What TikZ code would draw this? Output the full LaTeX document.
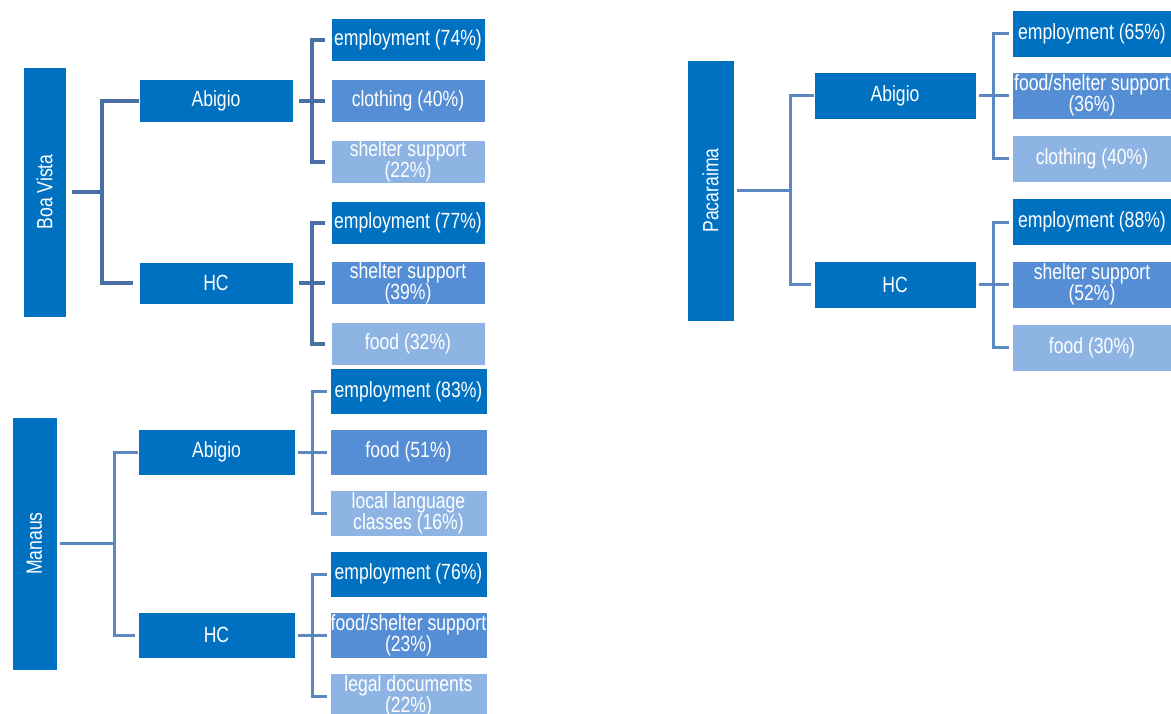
\documentclass[tikz,border=0pt]{standalone}
\usepackage{fontspec}
\setmainfont[FakeStretch=0.8]{Liberation Sans}
\usetikzlibrary{calc,positioning}
\definecolor{color_box_dark}{HTML}{0070C0}
\definecolor{color_box_medium}{HTML}{558ED5}
\definecolor{color_box_light}{HTML}{8EB4E3}
\definecolor{color_link_dark}{HTML}{4A6EA6}
\definecolor{color_link}{HTML}{5B88C0}

\tikzset{
	box/.style={draw=white, line width=0.8pt, text=white, align=center, inner sep=0pt,
		font=\fontsize{22}{21}\selectfont},
	box_dark/.style={box, fill=color_box_dark},
	box_medium/.style={box, fill=color_box_medium},
	box_light/.style={box, fill=color_box_light},
	link/.style={line width=3pt, color_link},
	link_thick/.style={line width=4pt, color_link_dark},
}

\begin{document}
\begin{tikzpicture}[x=1pt,y=-1pt]
				\useasboundingbox (0, 0) rectangle (1171, 713);

				% Boa Vista
				\node[box_dark, minimum width=43, minimum height=250] (bv) at (44.5, 192) {\rotatebox{90}{Boa Vista}};
				\node[box_dark, minimum width=154, minimum height=43] (bva) at (216, 100.5) {Abigio};
				\node[box_dark, minimum width=154, minimum height=42] (bvh) at (216, 283) {HC};

				\node[box_dark, minimum width=154, minimum height=43] (bva1) at (408, 39.5) {employment (74\%)};
				\node[box_medium, minimum width=154, minimum height=43] (bva2) at (408, 100.5) {clothing (40\%)};
				\node[box_light, minimum width=154, minimum height=43] (bva3) at (408, 161.5) {shelter support\\(22\%)};
				\node[box_dark, minimum width=154, minimum height=43] (bvh1) at (408, 222.5) {employment (77\%)};
				\node[box_medium, minimum width=154, minimum height=43] (bvh2) at (408, 283) {shelter support\\(39\%)};
				\node[box_light, minimum width=154, minimum height=43] (bvh3) at (408, 344) {food (32\%)};

				\coordinate (bvj) at ($(bv.east) + (36, 0)$);
				\coordinate (bvaj) at ($(bva.east) + (19, 0)$);
				\coordinate (bvhj) at ($(bvh.east) + (19, 0)$);

				\draw[link_thick, shorten <=6pt] (bv.east) -- (bvj);
				\draw[link_thick, shorten >=6pt]
					(bvj) |- (bva.west)
					(bvj) |- (bvh.west)
					;
				\draw[link_thick, shorten <=6pt] (bva.east) -- (bvaj);
				\draw[link_thick, shorten >=6pt] (bvaj) |- (bva1.west);
				\draw[link_thick, shorten >=6pt] (bvaj) |- (bva2.west);
				\draw[link_thick, shorten >=6pt] (bvaj) |- (bva3.west);
				\draw[link_thick, shorten <=6pt] (bvh.east) -- (bvhj);
				\draw[link_thick, shorten >=6pt] (bvhj) |- (bvh1.west);
				\draw[link_thick, shorten >=6pt] (bvhj) |- (bvh2.west);
				\draw[link_thick, shorten >=6pt] (bvhj) |- (bvh3.west);

				% Manaus
				\node[box_dark, minimum width=45, minimum height=253] (ma) at (34.5, 543.5) {\rotatebox{90}{Manaus}};
				\node[box_dark, minimum width=157, minimum height=46] (maa) at (216.5, 452) {Abigio};
				\node[box_dark, minimum width=157, minimum height=46] (mah) at (216.5, 635) {HC};

				\node[box_dark, minimum width=157, minimum height=46] (maa1) at (408.5, 391.5) {employment (83\%)};
				\node[box_medium, minimum width=157, minimum height=46] (maa2) at (408.5, 452) {food (51\%)};
				\node[box_light, minimum width=157, minimum height=46] (maa3) at (408.5, 513) {local language\\classes (16\%)};
				\node[box_dark, minimum width=157, minimum height=46] (mah1) at (408.5, 574) {employment (76\%)};
				\node[box_medium, minimum width=157, minimum height=46] (mah2) at (408.5, 635) {food/shelter support\\(23\%)};
				\node[box_light, minimum width=157, minimum height=46] (mah3) at (408.5, 696) {legal documents\\(22\%)};

				\coordinate (maj) at ($(ma.east) + (57, 0)$);
				\coordinate (maaj) at ($(maa.east) + (17, 0)$);
				\coordinate (mahj) at ($(mah.east) + (17, 0)$);

				\draw[link, shorten <=3pt] (ma.east) -- (maj);
				\draw[link, shorten >=3pt]
					(maj) |- (maa.west)
					(maj) |- (mah.west)
					;
				\draw[link, shorten <=3pt] (maa.east) -- (maaj);
				\draw[link, shorten >=3pt] (maaj) |- (maa1.west);
				\draw[link, shorten >=3pt] (maaj) |- (maa2.west);
				\draw[link, shorten >=3pt] (maaj) |- (maa3.west);
				\draw[link, shorten <=3pt] (mah.east) -- (mahj);
				\draw[link, shorten >=3pt] (mahj) |- (mah1.west);
				\draw[link, shorten >=3pt] (mahj) |- (mah2.west);
				\draw[link, shorten >=3pt] (mahj) |- (mah3.west);

				% Pacaraima
				\node[box_dark, minimum width=47, minimum height=261] (pa) at (710.5, 190.5) {\rotatebox{90}{Pacaraima}};
				\node[box_dark, minimum width=162, minimum height=47] (paa) at (895, 95.5) {Abigio};
				\node[box_dark, minimum width=162, minimum height=47] (pah) at (895, 284.5) {HC};

				\node[box_dark, minimum width=160, minimum height=47] (paa1) at (1092, 33.5) {employment (65\%)};
				\node[box_medium, minimum width=160, minimum height=47] (paa2) at (1092, 95.5) {food/shelter support\\(36\%)};
				\node[box_light, minimum width=160, minimum height=47] (paa3) at (1092, 158.5) {clothing (40\%)};
				\node[box_dark, minimum width=160, minimum height=47] (pah1) at (1092, 222) {employment (88\%)};
				\node[box_medium, minimum width=160, minimum height=47] (pah2) at (1092, 284.5) {shelter support\\(52\%)};
				\node[box_light, minimum width=160, minimum height=47] (pah3) at (1092, 347.5) {food (30\%)};

				\coordinate (paj) at ($(pa.east) + (56, 0)$);
				\coordinate (paaj) at ($(paa.east) + (17, 0)$);
				\coordinate (pahj) at ($(pah.east) + (17, 0)$);

				\draw[link, shorten <=3pt] (pa.east) -- (paj);
				\draw[link, shorten >=3pt]
					(paj) |- (paa.west)
					(paj) |- (pah.west)
					;
				\draw[link, shorten <=3pt] (paa.east) -- (paaj);
				\draw[link, shorten >=3pt] (paaj) |- (paa1.west);
				\draw[link, shorten >=3pt] (paaj) |- (paa2.west);
				\draw[link, shorten >=3pt] (paaj) |- (paa3.west);
				\draw[link, shorten <=3pt] (pah.east) -- (pahj);
				\draw[link, shorten >=3pt] (pahj) |- (pah1.west);
				\draw[link, shorten >=3pt] (pahj) |- (pah2.west);
				\draw[link, shorten >=3pt] (pahj) |- (pah3.west);
\end{tikzpicture}
\end{document}
